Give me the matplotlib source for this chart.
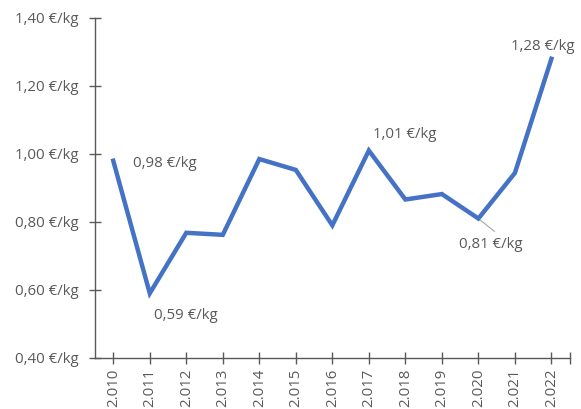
import matplotlib.pyplot as plt
from matplotlib.ticker import FuncFormatter

# Preis je kg pro Jahr
jahre = ["2.010", "2.011", "2.012", "2.013", "2.014", "2.015", "2.016",
         "2.017", "2.018", "2.019", "2.020", "2.021", "2.022"]
preise = [0.98, 0.59, 0.768, 0.762, 0.985, 0.953, 0.79,
          1.01, 0.866, 0.882, 0.81, 0.944, 1.28]

# Beschriftete Punkte: Index, Versatz in Punkten
beschriftet = {0: (14, -2), 1: (3, -16), 7: (3, 11.5), 10: (-14, -19), 12: (-29, 8.5)}

plt.rcParams['font.family'] = ['Open Sans', 'DejaVu Sans']
grau = "#595959"

fig = plt.figure(figsize=(5.81, 4.09), dpi=100)
ax = fig.add_axes([0.1635, 0.125, 0.817, 0.831])

x = list(range(len(jahre)))
ax.plot(x, preise, color="#4472C4", linewidth=3.2, solid_joinstyle="miter")

def eur(v):
    return f"{v:.2f}".replace(".", ",") + " €/kg"

for i, (dx, dy) in beschriftet.items():
    ax.annotate(eur(preise[i]), (x[i], preise[i]), xytext=(dx, dy),
                textcoords="offset points", fontsize=10.8, color=grau,
                ha="left", va="center")
# Führungslinie zum Wert 2020
ax.annotate("", (x[10], preise[10]), xytext=(x[10] + 0.44, preise[10] - 0.038),
            arrowprops=dict(arrowstyle="-", color="#a6a6a6", lw=0.8,
                            shrinkA=0, shrinkB=2))

ax.set_xlim(-0.5, 12.5)
ax.set_ylim(0.4, 1.4)
ax.set_yticks([0.4, 0.6, 0.8, 1.0, 1.2, 1.4])
ax.yaxis.set_major_formatter(FuncFormatter(lambda v, p: eur(v)))
ax.set_xticks(x)
ax.set_xticks([12.5], minor=True)
ax.set_xticklabels(jahre, rotation=90)

for s in ["top", "right"]:
    ax.spines[s].set_visible(False)
for s in ["left", "bottom"]:
    ax.spines[s].set_color(grau)
    ax.spines[s].set_linewidth(1.0)

ax.tick_params(axis="both", which="both", direction="inout", length=8,
               width=1.0, color=grau, labelcolor=grau, labelsize=10.8)
ax.tick_params(axis="y", pad=8)
ax.tick_params(axis="x", pad=4)

fig.savefig("out.png", dpi=100)
